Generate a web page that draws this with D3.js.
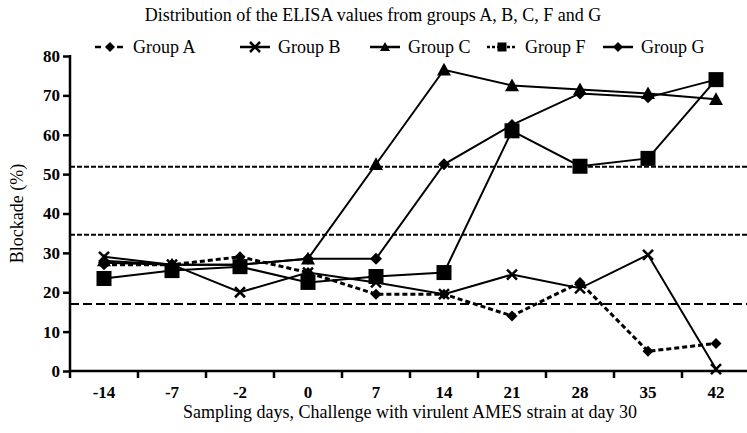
<!DOCTYPE html>
<html>
<head>
<meta charset="utf-8">
<script src="https://cdn.jsdelivr.net/npm/d3@7/dist/d3.min.js"></script>
<style>
  body { margin: 0; background: #fff; }
  svg text { fill: #000; }
</style>
</head>
<body>
<script>
const days = ['-14', '-7', '-2', '0', '7', '14', '21', '28', '35', '42']
const groupA = [27, 27, 29, 25, 19.5, 19.5, 14, 22.5, 5, 7]
const groupB = [29, 27, 20, 25, 22.5, 19.5, 24.5, 21, 29.5, 0.5]
const groupC = [28, 27, 27, 28.5, 52.5, 76.5, 72.5, 71.5, 70.5, 69]
const groupF = [23.5, 25.5, 26.5, 22.5, 24, 25, 61, 52, 54, 74]
const groupG = [27.5, 27, 27, 28.5, 28.5, 52.5, 62.5, 70.5, 69.5, 74]
const cutoffs = [51.9, 34.6, 17]
const yTicks = [0, 10, 20, 30, 40, 50, 60, 70, 80]

const serifFont = 'Liberation Serif, Times New Roman, Times, Tinos, DejaVu Serif, Noto Serif, FreeSerif, serif'

const config = {
  width: 747,
  height: 433,
  left: 70,
  right: 750,
  top: 56,
  bottom: 371
}

const series = [
  { name: 'Group A', values: groupA, symbol: 'diamond', size: 11, dash: '5,3', legendDash: '6,5' },
  { name: 'Group B', values: groupB, symbol: 'cross', size: 10, dash: null, legendDash: null },
  { name: 'Group C', values: groupC, symbol: 'triangle', size: 14, dash: null, legendDash: null },
  { name: 'Group F', values: groupF, symbol: 'square', size: 15, dash: null, legendDash: '3,2' },
  { name: 'Group G', values: groupG, symbol: 'diamond', size: 12, dash: null, legendDash: null }
]

const svg = d3.select('body').append('svg')
  .attr('width', config.width)
  .attr('height', config.height)
  .style('font-family', serifFont)

const x = d3.scaleBand().domain(days).range([config.left, config.right]).padding(0)
const y = d3.scaleLinear().domain([0, 80]).range([config.bottom, config.top])
const cx = d => x(d) + x.bandwidth() / 2

// reference cut-off lines
svg.selectAll('.cutoff').data(cutoffs).enter().append('line')
  .attr('x1', config.left).attr('x2', config.width)
  .attr('y1', d => y(d)).attr('y2', d => y(d))
  .attr('stroke', '#000').attr('stroke-width', 2)
  .attr('stroke-dasharray', (d, i) => i < 2 ? '5,2' : '9,4')

// draws one marker shape centered on 0,0
const marker = function(g, symbol, size) {
  const h = size / 2
  if (symbol === 'diamond') {
    g.append('path').attr('d', `M0,${-h}L${h},0L0,${h}L${-h},0Z`).attr('fill', '#000')
  } else if (symbol === 'square') {
    g.append('rect').attr('x', -h).attr('y', -h).attr('width', size).attr('height', size).attr('fill', '#000')
  } else if (symbol === 'triangle') {
    g.append('path').attr('d', `M0,${-h}L${h},${h * 0.8}L${-h},${h * 0.8}Z`).attr('fill', '#000')
  } else {
    g.append('path').attr('d', `M${-h},${-h}L${h},${h}M${-h},${h}L${h},${-h}`)
      .attr('stroke', '#000').attr('stroke-width', 2.5)
  }
}

const line = d3.line().x((d, i) => cx(days[i])).y(d => y(d))

series.forEach(s => {
  svg.append('path')
    .attr('d', line(s.values))
    .attr('fill', 'none')
    .attr('stroke', '#000')
    .attr('stroke-width', s.dash ? 3 : 2)
    .attr('stroke-dasharray', s.dash)
  s.values.forEach((v, i) => {
    const g = svg.append('g').attr('transform', `translate(${cx(days[i])},${y(v)})`)
    marker(g, s.symbol, s.size)
  })
})

// y axis
const yAxis = svg.append('g')
  .attr('transform', `translate(${config.left},0)`)
  .call(d3.axisLeft(y).tickValues(yTicks).tickSize(7).tickPadding(3))
yAxis.attr('font-size', 17).style('font-family', serifFont).style('font-weight', 'bold')
yAxis.select('.domain').remove()
yAxis.selectAll('line').attr('stroke-width', 2.5)
svg.append('line')
  .attr('x1', config.left).attr('x2', config.left)
  .attr('y1', config.top - 1).attr('y2', config.bottom + 7)
  .attr('stroke', '#000').attr('stroke-width', 2.5)

// x axis: labels centered on categories, ticks on category boundaries
const xAxis = svg.append('g')
  .attr('transform', `translate(0,${config.bottom})`)
  .call(d3.axisBottom(x).tickSize(0).tickPadding(15))
xAxis.attr('font-size', 17).style('font-family', serifFont).style('font-weight', 'bold')
xAxis.select('.domain').remove()
svg.append('line')
  .attr('x1', config.left).attr('x2', config.width)
  .attr('y1', config.bottom).attr('y2', config.bottom)
  .attr('stroke', '#000').attr('stroke-width', 2.5)
svg.selectAll('.xtick').data(days.slice(1)).enter().append('line')
  .attr('x1', d => x(d)).attr('x2', d => x(d))
  .attr('y1', config.bottom).attr('y2', config.bottom + 7)
  .attr('stroke', '#000').attr('stroke-width', 2.5)

// titles
svg.append('text')
  .attr('x', 373).attr('y', 21)
  .attr('text-anchor', 'middle')
  .attr('font-size', 18)
  .text('Distribution of the ELISA values from groups A, B, C, F and G')

svg.append('text')
  .attr('x', (config.left + config.right) / 2).attr('y', 418)
  .attr('text-anchor', 'middle')
  .attr('font-size', 18)
  .text('Sampling days, Challenge with virulent AMES strain at day 30')

svg.append('text')
  .attr('transform', `translate(23,${(config.top + config.bottom) / 2}) rotate(-90)`)
  .attr('text-anchor', 'middle')
  .attr('font-size', 18)
  .text('Blockade (%)')

// legend
const legendX = [95, 240, 370, 487, 603]
const legendY = 47
series.forEach((s, i) => {
  const lx = legendX[i]
  svg.append('line')
    .attr('x1', lx).attr('x2', lx + 30)
    .attr('y1', legendY).attr('y2', legendY)
    .attr('stroke', '#000').attr('stroke-width', 2.5)
    .attr('stroke-dasharray', s.legendDash)
  const g = svg.append('g').attr('transform', `translate(${lx + 15},${legendY})`)
  marker(g, s.symbol, s.symbol === 'square' ? 9 : 10)
  svg.append('text')
    .attr('x', lx + 38).attr('y', legendY + 6)
    .attr('font-size', 18)
    .text(s.name)
})
</script>
</body>
</html>
